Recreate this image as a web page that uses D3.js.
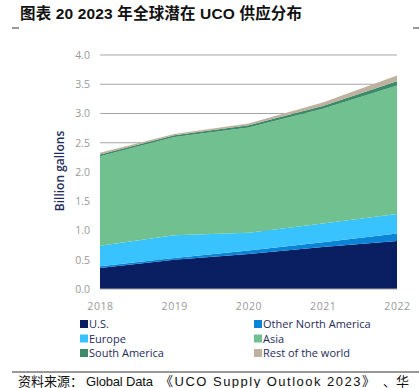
<!DOCTYPE html>
<html>
<head>
<meta charset="utf-8">
<script src="https://cdn.jsdelivr.net/npm/d3@7"></script>
<style>
  body { margin: 0; background: #fff; }
  svg { font-family: "Liberation Sans", "Noto Sans CJK SC", sans-serif; }
</style>
</head>
<body>
<svg id="chart" width="419" height="388"></svg>
<script>
// data (billion gallons)
var years = ["2018", "2019", "2020", "2021", "2022"];
var us = [0.36, 0.50, 0.60, 0.72, 0.82];
var otherNA = [0.03, 0.03, 0.06, 0.08, 0.13];
var europe = [0.35, 0.39, 0.30, 0.32, 0.33];
var asia = [1.53, 1.68, 1.80, 1.96, 2.20];
var southAmerica = [0.03, 0.03, 0.04, 0.05, 0.07];
var restOfWorld = [0.03, 0.02, 0.03, 0.06, 0.10];
var yTicks = [0, 0.5, 1, 1.5, 2, 2.5, 3, 3.5, 4];

var seriesNames = ["U.S.", "Other North America", "Europe", "Asia", "South America", "Rest of the world"];
var seriesValues = [us, otherNA, europe, asia, southAmerica, restOfWorld];
var colors = ["#0a1f62", "#0a84d6", "#38c3ff", "#70c18f", "#3b8a69", "#bfb19f"];

var rows = years.map(function (y, i) {
    var r = { year: y };
    seriesNames.forEach(function (n, k) { r[n] = seriesValues[k][i]; });
    return r;
});

var svg = d3.select("#chart");

var x = d3.scalePoint().domain(years).range([100, 397]);
var y = d3.scaleLinear().domain([0, 4]).range([289, 55]);

// title
svg.append("text")
    .attr("x", 20).attr("y", 19)
    .attr("font-size", 15.5).attr("font-weight", "bold")
    .attr("fill", "#111")
    .attr("textLength", 282)
    .text("图表 20 2023 年全球潜在 UCO 供应分布");
svg.append("line").attr("x1", 12).attr("x2", 19).attr("y1", 28).attr("y2", 28).attr("stroke", "#333");
svg.append("line").attr("x1", 413).attr("x2", 419).attr("y1", 28).attr("y2", 28).attr("stroke", "#333");

// gridlines
svg.append("g")
    .selectAll("line")
    .data(yTicks.slice(1))
    .enter()
    .append("line")
    .attr("x1", 100).attr("x2", 397)
    .attr("y1", function (d) { return y(d); })
    .attr("y2", function (d) { return y(d); })
    .attr("stroke", "#a6a6a6").attr("stroke-width", 1);

var stack = d3.stack().keys(seriesNames);
var area = d3.area()
    .x(function (d) { return x(d.data.year); })
    .y0(function (d) { return y(d[0]); })
    .y1(function (d) { return y(d[1]); });

svg.append("g")
    .selectAll("path")
    .data(stack(rows))
    .enter()
    .append("path")
    .attr("d", area)
    .attr("fill", function (d, i) { return colors[i]; });

// axes
var yAxis = svg.append("g")
    .attr("transform", "translate(100,0)")
    .call(d3.axisLeft(y).tickValues(yTicks).tickFormat(d3.format(".1f")).tickSize(0).tickPadding(10));
yAxis.select(".domain").remove();
yAxis.selectAll("text").attr("font-size", 10.5).attr("fill", "#999")
    .attr("font-family", "'Open Sans', sans-serif");

var xAxis = svg.append("g")
    .attr("transform", "translate(0,289)")
    .call(d3.axisBottom(x).tickSize(0).tickPadding(14));
xAxis.select(".domain").attr("stroke", "#a6a6a6").attr("d", "M100,0H397");
xAxis.selectAll("text").attr("font-size", 10.5).attr("fill", "#999")
    .attr("letter-spacing", 0.6)
    .attr("font-family", "'Open Sans', sans-serif");

svg.append("text")
    .attr("transform", "translate(64,171) rotate(-90)")
    .attr("text-anchor", "middle")
    .attr("font-size", 12)
    .attr("font-weight", 600)
    .attr("fill", "#1f2b5a")
    .attr("font-family", "'Open Sans', sans-serif")
    .text("Billion gallons");

// legend
var legend = svg.append("g")
    .selectAll("g")
    .data(seriesNames)
    .enter()
    .append("g")
    .attr("transform", function (d, i) {
        return "translate(" + (i % 2 ? 254 : 80) + "," + (328 + Math.floor(i / 2) * 14.5) + ")";
    });
legend.append("rect")
    .attr("x", 0).attr("y", -8).attr("width", 8).attr("height", 8)
    .attr("fill", function (d, i) { return colors[i]; });
legend.append("text")
    .attr("x", 9).attr("y", 0)
    .attr("font-size", 11)
    .attr("fill", "#1f2b5a")
    .attr("font-family", "'Open Sans', sans-serif")
    .text(function (d) { return d; });

// source
svg.append("line").attr("x1", 12).attr("x2", 419).attr("y1", 372).attr("y2", 372).attr("stroke", "#333");
var src = svg.append("text")
    .attr("y", 386)
    .attr("font-size", 13)
    .attr("fill", "#111");
src.append("tspan").attr("x", 18).text("资料来源：");
src.append("tspan").attr("x", 86).attr("textLength", 67).text("Global Data");
src.append("tspan").attr("x", 160).attr("textLength", 215).text("《UCO Supply Outlook 2023》");
src.append("tspan").attr("x", 383).text("、华");
</script>
</body>
</html>
